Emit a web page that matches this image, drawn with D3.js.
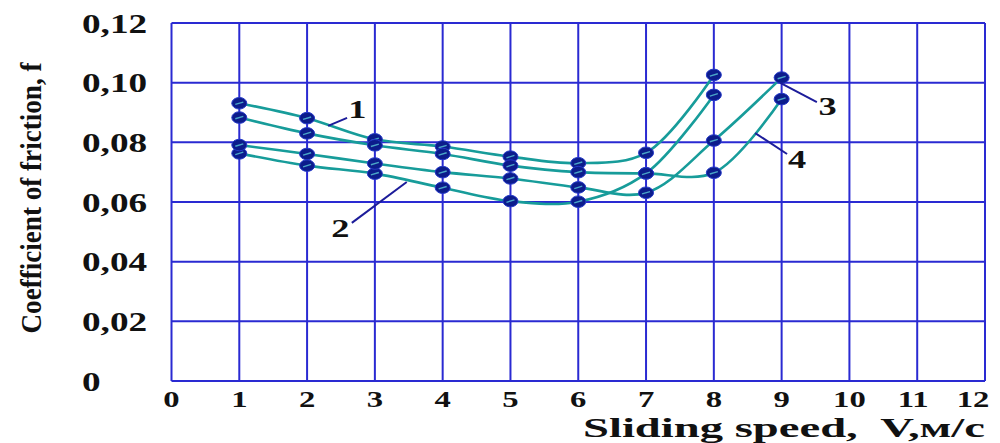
<!DOCTYPE html>
<html>
<head>
<meta charset="utf-8">
<script src="https://cdn.jsdelivr.net/npm/d3@7"></script>
<style>
  body { margin: 0; background: #fff; }
  svg { display: block; }
  text { font-family: "Liberation Serif", "Times New Roman", serif; }
</style>
</head>
<body>
<div id="chart"></div>
<script>
// sliding speed, m/s
const speeds = [1, 2, 3, 4, 5, 6, 7, 8, 9];
// coefficient of friction per curve (null = no point at that speed)
const curve1 = [0.0931, 0.0881, 0.0810, 0.0786, 0.0752, 0.0730, 0.0765, 0.1026, null];
const curve2 = [0.0763, 0.0722, 0.0695, 0.0648, 0.0603, 0.0601, 0.0696, 0.0959, null];
const curve3 = [0.0791, 0.0761, 0.0729, 0.0700, 0.0679, 0.0649, 0.0631, 0.0806, 0.1017];
const curve4 = [0.0883, 0.0830, 0.0790, 0.0761, 0.0722, 0.0700, 0.0696, 0.0698, 0.0945];
const curveNames = ["1", "2", "3", "4"];

const xTicks = [0, 1, 2, 3, 4, 5, 6, 7, 8, 9, 10, 11, 12];
const yTicks = [0, 0.02, 0.04, 0.06, 0.08, 0.10, 0.12];
const yTickLabels = ["0", "0,02", "0,04", "0,06", "0,08", "0,10", "0,12"];

const width = 1000, height = 443;
const margin = { top: 23, right: 15, bottom: 62, left: 171.5 };

const svg = d3.select("#chart").append("svg")
    .attr("width", width)
    .attr("height", height);

const x = d3.scaleLinear().domain([0, 12]).range([margin.left, width - margin.right]);
const y = d3.scaleLinear().domain([0, 0.12]).range([height - margin.bottom, margin.top]);

const gridColor = "#2a2ad2";
const lineColor = "#179c9a";

// grid
svg.append("g").selectAll("line.v")
    .data(xTicks)
    .enter().append("line")
    .attr("x1", d => x(d)).attr("x2", d => x(d))
    .attr("y1", y(0.12)).attr("y2", y(0))
    .attr("stroke", gridColor)
    .attr("stroke-width", 2);

svg.append("g").selectAll("line.h")
    .data(yTicks)
    .enter().append("line")
    .attr("x1", x(0)).attr("x2", x(12))
    .attr("y1", d => y(d)).attr("y2", d => y(d))
    .attr("stroke", gridColor)
    .attr("stroke-width", 2);

// y tick labels (left aligned, stretched like the original)
svg.append("g").selectAll("g")
    .data(yTicks)
    .enter().append("g")
    .attr("transform", d => `translate(82,${y(d) + 9.5}) scale(1.33,1)`)
    .append("text")
    .attr("font-size", 28)
    .attr("font-weight", "bold")
    .attr("fill", "#111")
    .text((d, i) => yTickLabels[i]);

// x tick labels
svg.append("g").selectAll("g")
    .data(xTicks)
    .enter().append("g")
    .attr("transform", d => `translate(${x(d) + (d === 12 ? -12 : d === 11 ? -4 : 0)},${407}) scale(1.42,1)`)
    .append("text")
    .attr("font-size", 23)
    .attr("font-weight", "bold")
    .attr("text-anchor", "middle")
    .attr("fill", "#111")
    .text(d => d);

// axis titles
svg.append("text")
    .attr("x", 583)
    .attr("y", 437)
    .attr("font-size", 27)
    .attr("font-weight", "bold")
    .attr("fill", "#111")
    .attr("textLength", 402)
    .attr("lengthAdjust", "spacingAndGlyphs")
    .text("Sliding speed,\u00A0 V,\u043C/\u0441");

svg.append("g")
    .attr("transform", "translate(41,198) scale(1.12,1) rotate(-90)")
    .append("text")
    .attr("font-size", 27)
    .attr("font-weight", "bold")
    .attr("text-anchor", "middle")
    .attr("fill", "#111")
    .attr("textLength", 271)
    .attr("lengthAdjust", "spacingAndGlyphs")
    .text("Coefficient of friction, f");

// curves
const curves = [curve1, curve2, curve3, curve4].map(vals =>
  speeds.map((s, i) => ({ v: s, f: vals[i] })).filter(d => d.f !== null));

const line = d3.line()
    .x(d => x(d.v))
    .y(d => y(d.f))
    .curve(d3.curveCatmullRom.alpha(0.5));

svg.append("g").selectAll("path")
    .data(curves)
    .enter().append("path")
    .attr("d", d => line(d))
    .attr("fill", "none")
    .attr("stroke", lineColor)
    .attr("stroke-width", 2.6);

// point markers
const points = svg.append("g").selectAll("g")
    .data(curves.flat())
    .enter().append("g")
    .attr("transform", d => `translate(${x(d.v)},${y(d.f)})`);

points.append("ellipse")
    .attr("rx", 7.5)
    .attr("ry", 5.8)
    .attr("fill", "#0c1c8c")
    .attr("stroke", "#2438c8")
    .attr("stroke-width", 1);

points.append("line")
    .attr("x1", -4).attr("y1", 1.2)
    .attr("x2", 4).attr("y2", -1.2)
    .attr("stroke", "#4aa6c8")
    .attr("stroke-width", 1.4);

// curve labels with leader lines (in data units)
const annotations = [
  { name: curveNames[0], tx: 2.74, tf: 0.0912, l: [[2.31, 0.0855], [2.59, 0.0882]] },
  { name: curveNames[1], tx: 2.49, tf: 0.0513, l: [[2.66, 0.0530], [3.47, 0.0667]] },
  { name: curveNames[2], tx: 9.68, tf: 0.0922, l: [[8.98, 0.0999], [9.52, 0.0935]] },
  { name: curveNames[3], tx: 9.23, tf: 0.0744, l: [[8.61, 0.0831], [9.08, 0.0761]] }
];

svg.append("g").selectAll("line")
    .data(annotations)
    .enter().append("line")
    .attr("x1", d => x(d.l[0][0])).attr("y1", d => y(d.l[0][1]))
    .attr("x2", d => x(d.l[1][0])).attr("y2", d => y(d.l[1][1]))
    .attr("stroke", "#1c1c9a")
    .attr("stroke-width", 2);

svg.append("g").selectAll("g")
    .data(annotations)
    .enter().append("g")
    .attr("transform", d => `translate(${x(d.tx)},${y(d.tf) + 9}) scale(1.4,1)`)
    .append("text")
    .attr("font-size", 26)
    .attr("font-weight", "bold")
    .attr("text-anchor", "middle")
    .attr("fill", "#111")
    .text(d => d.name);
</script>
</body>
</html>
